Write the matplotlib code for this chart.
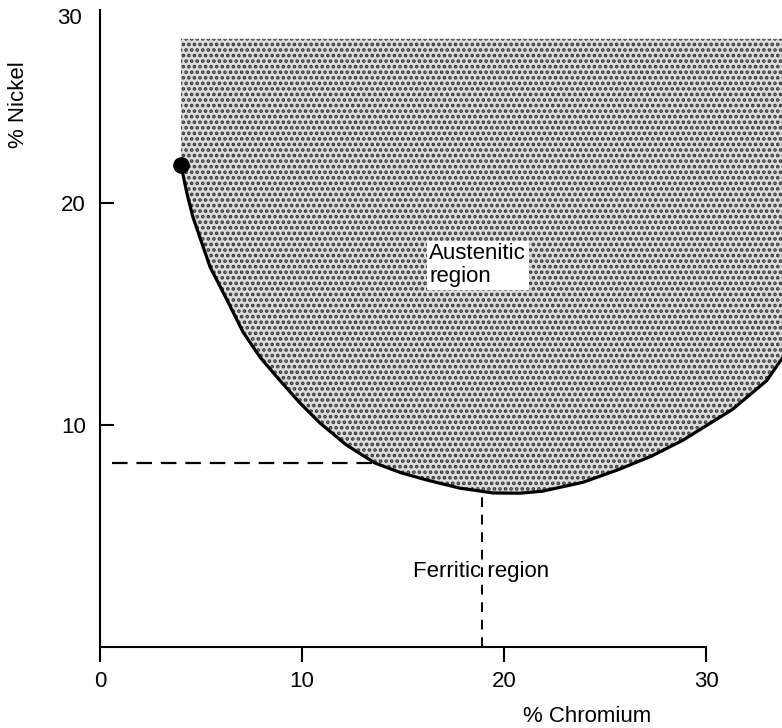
import matplotlib.pyplot as plt

plt.rcParams["font.family"] = ["Liberation Sans", "DejaVu Sans"]
plt.rcParams["hatch.linewidth"] = 1.8

# Boundary between the austenitic and ferritic regions (% Cr, % Ni)
chromium = [4.01, 4.30, 4.60, 5.45, 6.29, 7.08, 7.92, 8.76, 9.90, 10.89, 12.2,
            13.61, 14.9, 16.19, 17.8, 19.46, 20.8, 21.9, 23.9, 25.6, 27.3,
            28.86, 31.3, 33.0, 33.81]
nickel = [21.71, 20.45, 19.37, 17.12, 15.63, 14.19, 13.06, 12.16, 10.99, 10.09,
          9.1, 8.29, 7.85, 7.52, 7.16, 6.94, 6.93, 7.02, 7.42, 7.97, 8.6,
          9.32, 10.7, 12.0, 13.06]
region_top = 27.4

# reference point (dashed guide lines)
ref_cr, ref_ni = 13.61, 8.29
min_cr, min_ni = 18.9, 6.94

x_ticks = [0, 10, 20, 30]
y_ticks = [10, 20]

fig = plt.figure(figsize=(7.82, 7.28), dpi=100)
ax = fig.add_axes([100 / 782, 81 / 728, 682 / 782, 637 / 728])
ax.set_xlim(0, 33.76)
ax.set_ylim(0, 28.7)

ax.fill_between(chromium, nickel, region_top, facecolor="#dcdcdc",
                edgecolor="#3a3a3a", linewidth=0, hatch="...", zorder=1)
ax.plot(chromium, nickel, color="black", lw=2.3, zorder=3,
        solid_joinstyle="round")
ax.plot(chromium[0], nickel[0], "o", color="black", ms=11, zorder=4)

ax.plot([0.6, ref_cr], [ref_ni, ref_ni], color="black", lw=1.6,
        ls=(0, (7, 4)), zorder=2)
ax.plot([min_cr, min_cr], [0, min_ni], color="black", lw=1.4,
        ls=(0, (5, 4)), zorder=2)

ax.text(16.3, 17.2, "Austenitic\nregion", fontsize=16, ha="left", va="center",
        linespacing=1.1, zorder=5,
        bbox=dict(facecolor="white", edgecolor="none", pad=2))
ax.text(15.5, 3.4, "Ferritic region", fontsize=16, ha="left", va="center",
        zorder=5)

for side in ("top", "right"):
    ax.spines[side].set_visible(False)
ax.spines["left"].set_linewidth(1.5)
ax.spines["bottom"].set_linewidth(1.5)
ax.spines["bottom"].set_bounds(0, 30)

ax.set_xticks(x_ticks)
ax.set_yticks(y_ticks)
ax.tick_params(axis="x", direction="out", length=11, width=1.5, pad=6,
               labelsize=16)
ax.tick_params(axis="y", direction="in", length=10, width=1.5, pad=10,
               labelsize=16)
ax.text(-0.9, 28.3, "30", fontsize=16, ha="right", va="center",
        clip_on=False)

fig.text(587 / 782, 1 - 717 / 728, "% Chromium", fontsize=16,
         ha="center", va="center")
fig.text(18 / 782, 1 - 105 / 728, "% Nickel", fontsize=16, rotation=90,
         ha="center", va="center")

fig.savefig("out.png", dpi=100)
